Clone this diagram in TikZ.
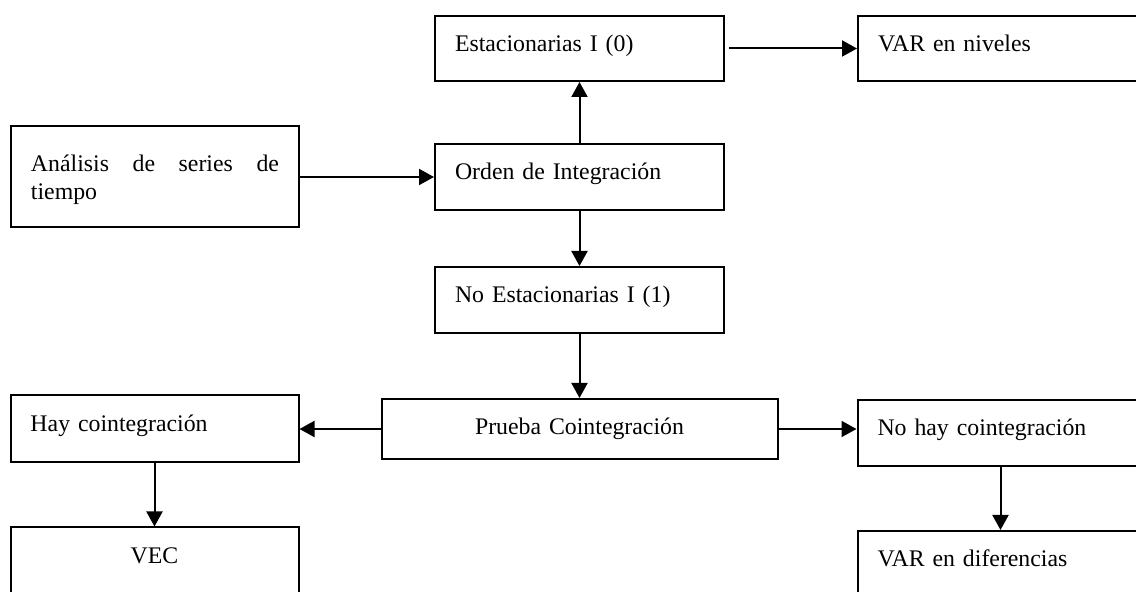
\documentclass[tikz,border=0pt]{standalone}
\usepackage{fontspec}
\setmainfont{Liberation Serif}
\usetikzlibrary{positioning, arrows.meta}

\tikzset{
    caja/.style={draw, line width=1pt, inner xsep=10pt, inner ysep=0pt,
        text width=124.5pt, minimum height=33pt, align=left,
        text height=8pt, text depth=5pt,
        font=\fontsize{11.9pt}{14pt}\selectfont},
}

\begin{document}
\begin{tikzpicture}[>={Triangle[length=7.5pt,width=8pt]}, line width=1pt, node distance=64pt, on grid]
        \useasboundingbox (0pt,0pt) rectangle (568pt,-296pt);

        \node[caja] (ord) at (289.75pt,-88.5pt) {Orden de Integración};
        \node[caja, minimum height=32.5pt] (est) [above=64.25pt of ord] {Estacionarias I (0)};
        \node[caja, text width=123pt, minimum height=32.5pt] (var) [right=210.75pt of est] {VAR en niveles};
        \node[caja, text width=124pt, minimum height=50.5pt, align=justify,
              text height=8.5pt, text depth=14pt] (ana) [left=212.25pt of ord] {Análisis de series de\linebreak tiempo};
        \node[caja] (noest) [below=61.5pt of ord] {No Estacionarias I (1)};
        \node[caja, text width=178pt, minimum height=30pt, align=center, text depth=2pt] (prueba) [below=64.5pt of noest] {Prueba Cointegración};
        \node[caja, text width=124pt, minimum height=33.5pt] (hay) [left=212.5pt of prueba] {Hay cointegración};
        \node[caja, text width=123pt] (nohay) [below right=2pt and 210.5pt of prueba] {No hay cointegración};
        \node[caja, text width=124pt, align=center] (vec) [below=65.75pt of hay] {VEC};
        \node[caja, text width=123pt] (vard) [below=65.5pt of nohay] {VAR en diferencias};

        \path[->]
        (ana) edge (ord)
        (ord) edge (est)
        (est) edge [shorten <=2pt] (var)
        (ord) edge (noest)
        (noest) edge (prueba)
        (prueba) edge (hay)
        (prueba.east) edge (prueba.east -| nohay.west)
        (hay) edge (vec)
        (nohay) edge (vard)
        ;
    \end{tikzpicture}
\end{document}
